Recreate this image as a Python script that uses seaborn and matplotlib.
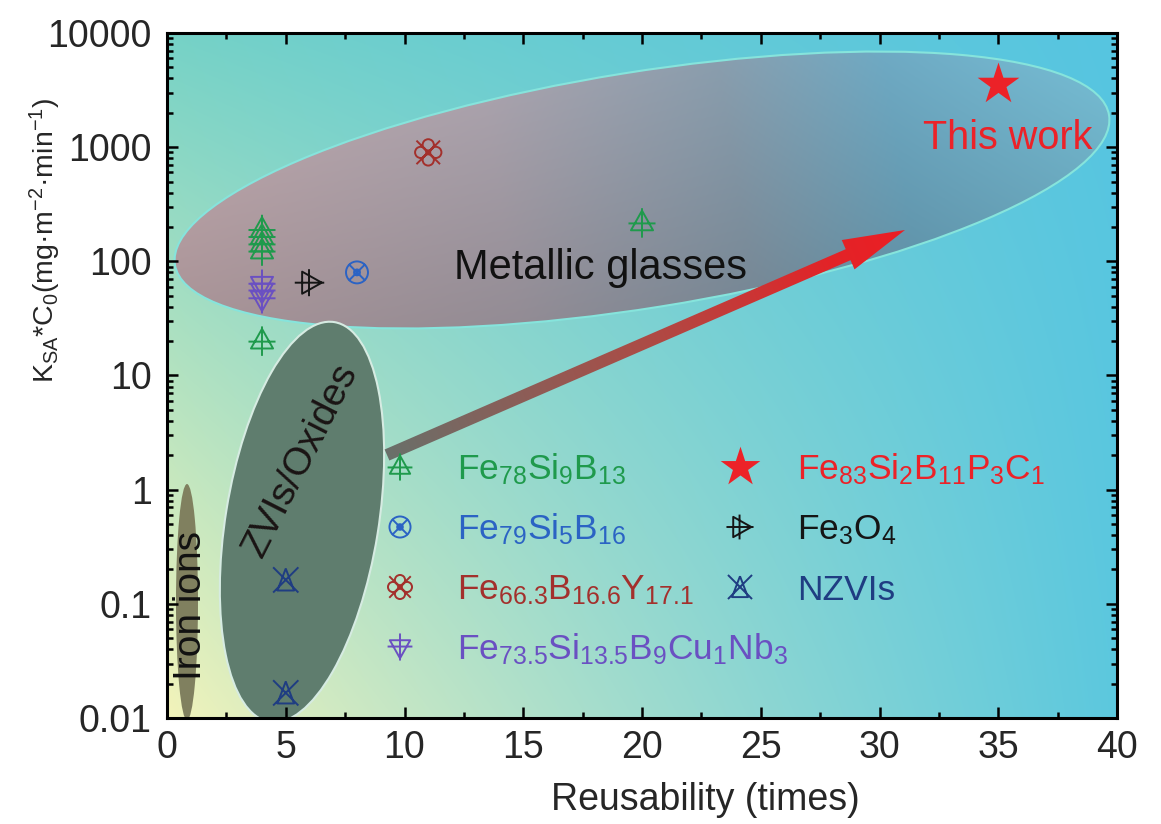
import numpy as np
import matplotlib
matplotlib.use("Agg")
import matplotlib.pyplot as plt
import seaborn as sns
from matplotlib.path import Path
from matplotlib.patches import Ellipse, FancyArrow
import matplotlib.ticker as mticker

# ---------------- data ----------------
fe78_x = [4, 4, 4, 4, 4, 20]
fe78_y = [190, 165, 142, 123, 20, 217]
fe79_x = [8]
fe79_y = [80]
fe66_x = [11]
fe66_y = [900]
fe735_x = [4, 4, 4]
fe735_y = [63, 55, 47]
fe83_x = [35]
fe83_y = [3600]
fe3o4_x = [6]
fe3o4_y = [65]
nzvi_x = [5, 5]
nzvi_y = [0.162, 0.0166]

label_fe78 = r"Fe$_{78}$Si$_{9}$B$_{13}$"
label_fe79 = r"Fe$_{79}$Si$_{5}$B$_{16}$"
label_fe66 = r"Fe$_{66.3}$B$_{16.6}$Y$_{17.1}$"
label_fe735 = r"Fe$_{73.5}$Si$_{13.5}$B$_{9}$Cu$_{1}$Nb$_{3}$"
label_fe83 = r"Fe$_{83}$Si$_{2}$B$_{11}$P$_{3}$C$_{1}$"
label_fe3o4 = r"Fe$_{3}$O$_{4}$"
label_nzvi = "NZVIs"

x_ticks = [0, 5, 10, 15, 20, 25, 30, 35, 40]
y_ticks = [0.01, 0.1, 1, 10, 100, 1000, 10000]
y_tick_labels = ["0.01", "0.1", "1", "10", "100", "1000", "10000"]

# ---------------- style ----------------
sns.set_style("ticks")
plt.rcParams["font.family"] = ["Liberation Sans", "DejaVu Sans"]
plt.rcParams["mathtext.fontset"] = "custom"
plt.rcParams["mathtext.rm"] = "Liberation Sans"
plt.rcParams["mathtext.it"] = "Liberation Sans:italic"
plt.rcParams["mathtext.bf"] = "Liberation Sans:bold"

c_green = "#1f9a4c"
c_blue = "#2b63c4"
c_brown = "#a3302c"
c_purple = "#6a50c2"
c_red = "#ec2228"
c_black = "#151515"
c_navy = "#1f3d82"


def compound(polylines=(), circles=()):
    paths = []
    for pl in polylines:
        codes = [Path.MOVETO] + [Path.LINETO] * (len(pl) - 1)
        paths.append(Path(pl, codes))
    for cx, cy, r in circles:
        paths.append(Path.circle((cx, cy), r))
    return Path.make_compound_path(*paths)


def transform_pts(pls, f):
    return [[f(p) for p in pl] for pl in pls]


tri_lines = [[(0, 0.5), (-0.45, -0.3), (0.45, -0.3), (0, 0.5)],
             [(0, 0.6), (0, -0.6)],
             [(-0.55, -0.02), (0.55, -0.02)]]
m_tri_up = compound(tri_lines)
m_tri_down = compound(transform_pts(tri_lines, lambda p: (p[0], -p[1])))
m_tri_right = compound(transform_pts(tri_lines, lambda p: (p[1], -p[0])))
m_circ_x = compound([[(-0.33, -0.33), (0.33, 0.33)], [(-0.33, 0.33), (0.33, -0.33)]],
                    [(0, 0, 0.45), (0, 0, 0.12)])
m_lattice = compound([[(-0.42, -0.42), (0.42, 0.42)], [(-0.42, 0.42), (0.42, -0.42)]],
                     [(0, 0.27, 0.2), (0, -0.27, 0.2), (0.27, 0, 0.2), (-0.27, 0, 0.2)])
m_nzvi = compound([[(-0.5, -0.5), (0.5, 0.5)], [(-0.5, 0.5), (0.5, -0.5)],
                   [(0, 0.45), (-0.33, -0.42), (0.33, -0.42), (0, 0.45)]])

W, H = 1161, 824
AX_L, AX_B, AX_W, AX_H = 167, 106, 950, 685
fig = plt.figure(figsize=(W / 100, H / 100), dpi=100)
fig.patch.set_facecolor("white")
rect = [AX_L / W, AX_B / H, AX_W / W, AX_H / H]

# background / decoration axes in pixel units
bg = fig.add_axes(rect, zorder=1)
bg.set_xlim(0, AX_W)
bg.set_ylim(0, AX_H)
bg.axis("off")

gx = np.linspace(0, 1, AX_W)
gy = np.linspace(0, 1, AX_H)
U, V = np.meshgrid(gx, gy)
TL = np.array([118, 210, 198]) / 255
BL = np.array([244, 244, 186]) / 255
TR = np.array([86, 197, 225]) / 255
BR = np.array([92, 200, 222]) / 255
Uw = U[..., None] ** 0.85
Vv = V[..., None]
grad = (1 - Uw) * ((1 - Vv) * BL + Vv * TL) + Uw * ((1 - Vv) * BR + Vv * TR)
bg.imshow(np.clip(grad, 0, 1), extent=(0, AX_W, 0, AX_H), origin="lower",
          aspect="auto", zorder=0, interpolation="bilinear")

PX, PY = np.meshgrid(np.arange(AX_W) + 0.5, np.arange(AX_H) + 0.5)

# metallic glasses ellipse with gradient fill
mg_c = (475, 528)
mg_w, mg_h, mg_ang = 946, 236, 9.1
th = np.deg2rad(mg_ang)
s = ((PX - mg_c[0]) * np.cos(th) + (PY - mg_c[1]) * np.sin(th)) / (mg_w / 2)
t = (-(PX - mg_c[0]) * np.sin(th) + (PY - mg_c[1]) * np.cos(th)) / (mg_h / 2)
sp = [-1.0, -0.3, 0.2, 0.55, 1.0]
cols = np.array([[188, 164, 168], [170, 162, 172], [138, 158, 174], [112, 172, 198], [122, 196, 220]]) / 255
mg_img = np.stack([np.interp(np.clip(s, -1, 1), sp, cols[:, k]) for k in range(3)], axis=-1)
shade = 0.86 + 0.14 * (np.clip(t, -1, 1) + 1) / 2
mg_img = np.clip(mg_img * shade[..., None], 0, 1)
mg_ell = Ellipse(mg_c, mg_w, mg_h, angle=mg_ang, facecolor="none",
                 edgecolor="#86e4dc", linewidth=1.5, zorder=3)
bg.add_patch(mg_ell)
im = bg.imshow(mg_img, extent=(0, AX_W, 0, AX_H), origin="lower", aspect="auto",
               zorder=2, interpolation="bilinear")
im.set_clip_path(mg_ell)

# ZVIs/Oxides ellipse and iron ions ellipse
bg.add_patch(Ellipse((135, 196), 153, 405, angle=-9.2, facecolor="#5f7d6e",
                     edgecolor="#d6ebe2", linewidth=1.5, zorder=4))
bg.add_patch(Ellipse((20, 116), 22, 236, angle=0, facecolor="#80805f",
                     edgecolor="none", zorder=4))

# gradient arrow
a0 = np.array([220.0, 263.0])
a1 = np.array([738.0, 488.0])
d = a1 - a0
arr = FancyArrow(a0[0], a0[1], d[0], d[1], width=12, head_width=32, head_length=62,
                 length_includes_head=True, facecolor="none", edgecolor="none", zorder=5)
bg.add_patch(arr)
p = np.clip(((PX - a0[0]) * d[0] + (PY - a0[1]) * d[1]) / (d @ d), 0, 1)
pp = [0.0, 0.5, 0.85, 1.0]
acols = np.array([[105, 112, 106], [172, 76, 70], [226, 36, 40], [236, 30, 36]]) / 255
a_img = np.stack([np.interp(p, pp, acols[:, k]) for k in range(3)], axis=-1)
aim = bg.imshow(a_img, extent=(0, AX_W, 0, AX_H), origin="lower", aspect="auto",
                zorder=5, interpolation="bilinear")
aim.set_clip_path(arr)

# region texts
bg.text(433, 450, "Metallic glasses", fontsize=30, ha="center", va="center", color="#111111", zorder=6)
bg.text(841, 580, "This work", fontsize=28.5, ha="center", va="center", color=c_red, zorder=6)
bg.text(134, 258, "ZVIs/Oxides", fontsize=28, ha="center", va="center", rotation=63,
        color="#1a1414", zorder=6)
bg.text(24, 113, "Iron ions", fontsize=28, ha="center", va="center", rotation=90,
        color="#111111", zorder=6)

# manual legend (two columns)
leg_rows = [251, 191, 131, 71]
col1 = [(m_tri_up, c_green, label_fe78, 380), (m_circ_x, c_blue, label_fe79, 230),
        (m_lattice, c_brown, label_fe66, 300), (m_tri_down, c_purple, label_fe735, 380)]
col2 = [("*", c_red, label_fe83, 900), (m_tri_right, c_black, label_fe3o4, 380),
        (m_nzvi, c_navy, label_nzvi, 300)]
for (mk, col, lab, sz), ry in zip(col1, leg_rows):
    bg.scatter([233], [ry], marker=mk, s=sz, facecolor="none", edgecolor=col,
               linewidth=1.4, zorder=7)
    bg.text(290, ry - 12.5, lab, fontsize=25.5, color=col, ha="left", va="baseline", zorder=7)
for (mk, col, lab, sz), ry in zip(col2, leg_rows):
    if mk == "*":
        bg.scatter([573], [ry], marker=mk, s=sz, color=col, linewidth=0, zorder=7)
    else:
        bg.scatter([573], [ry], marker=mk, s=sz, facecolor="none", edgecolor=col,
                   linewidth=1.4, zorder=7)
    bg.text(630, ry - 12.5, lab, fontsize=25.5, color=col, ha="left", va="baseline", zorder=7)

# ---------------- main data axes ----------------
ax = fig.add_axes(rect, zorder=2)
ax.set_facecolor("none")

kw = dict(linewidth=1.4, ax=ax, zorder=8, facecolor="none")
sns.scatterplot(x=fe78_x, y=fe78_y, marker=m_tri_up, s=450, color=c_green, edgecolor=c_green, **kw)
sns.scatterplot(x=fe79_x, y=fe79_y, marker=m_circ_x, s=250, color=c_blue, edgecolor=c_blue, **kw)
sns.scatterplot(x=fe66_x, y=fe66_y, marker=m_lattice, s=360, color=c_brown, edgecolor=c_brown, **kw)
sns.scatterplot(x=fe735_x, y=fe735_y, marker=m_tri_down, s=450, color=c_purple, edgecolor=c_purple, **kw)
sns.scatterplot(x=fe3o4_x, y=fe3o4_y, marker=m_tri_right, s=450, color=c_black, edgecolor=c_black, **kw)
sns.scatterplot(x=nzvi_x, y=nzvi_y, marker=m_nzvi, s=330, color=c_navy, edgecolor=c_navy, **kw)
sns.scatterplot(x=fe83_x, y=fe83_y, marker="*", s=1000, color=c_red, edgecolor=c_red,
                linewidth=0, ax=ax, zorder=8)

ax.set_yscale("log")
ax.set_xlim(0, 40)
ax.set_ylim(0.01, 10000)
ax.set_xticks(x_ticks)
ax.xaxis.set_minor_locator(mticker.MultipleLocator(2.5))
ax.yaxis.set_major_locator(mticker.FixedLocator(y_ticks))
ax.yaxis.set_major_formatter(mticker.FixedFormatter(y_tick_labels))
ax.yaxis.set_minor_locator(mticker.LogLocator(base=10, subs=np.arange(2, 10), numticks=20))
ax.yaxis.set_minor_formatter(mticker.NullFormatter())
ax.tick_params(which="both", direction="in", top=True, right=True, width=1.8, color="black")
ax.tick_params(which="major", length=8, labelsize=27)
ax.tick_params(axis="x", which="major", pad=9)
ax.tick_params(axis="y", which="major", pad=11)
ax.tick_params(which="minor", length=4.5)
for sp_ in ax.spines.values():
    sp_.set_linewidth(2.2)
    sp_.set_color("black")
    sp_.set_visible(True)

ax.set_xlabel("Reusability (times)", fontsize=27)
ax.xaxis.label.set_va("center")
ax.xaxis.set_label_coords((705 - AX_L) / AX_W, -(800 - 718) / AX_H)
ax.set_ylabel(r"K$_{\mathrm{SA}}$*C$_{0}$(mg·m$^{-2}$·min$^{-1}$)", fontsize=20.5)
ax.yaxis.label.set_va("center")
ax.yaxis.set_label_coords(-(AX_L - 45) / AX_W, (718 - 240) / AX_H)

fig.savefig("out.png", dpi=100, facecolor="white")
